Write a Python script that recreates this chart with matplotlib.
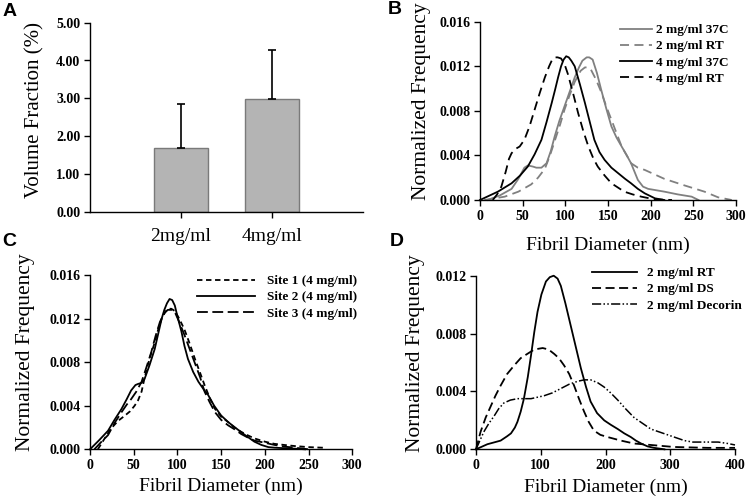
import numpy as np
import matplotlib
matplotlib.use("Agg")
import matplotlib.pyplot as plt

plt.rcParams['font.family'] = ['Liberation Serif', 'DejaVu Serif']

# Panel A: volume fraction bars
conc_labels = ["2mg/ml", "4mg/ml"]
vol_frac = [1.68, 2.98]
vol_err = [1.17, 1.30]

# Panel B: concentration / temperature
b_x_2_37 = [9, 23, 37, 45, 52, 56, 62, 66, 72, 78, 83, 87.5, 93, 99, 105, 111, 116, 120, 125, 128, 132, 137, 142, 148, 154, 160, 166, 172, 177, 185, 191, 197, 216, 232, 248, 256]
b_y_2_37 = [0, 0.0004, 0.0010, 0.0019, 0.0029, 0.0031, 0.0030, 0.0029, 0.0029, 0.0033, 0.0044, 0.0057, 0.0071, 0.0084, 0.0097, 0.0110, 0.0119, 0.0125, 0.0128, 0.0128, 0.0126, 0.0114, 0.0099, 0.0082, 0.0066, 0.0056, 0.0048, 0.0040, 0.0033, 0.0018, 0.0012, 0.0010, 0.00075, 0.0005, 0.0003, 0]
b_x_2_rt = [5, 29, 45, 60, 68, 76, 82, 88, 94, 99, 105, 111, 118, 123, 127, 130, 136, 142, 148, 154, 160, 166, 172, 177, 185, 193, 216, 240, 263, 279, 295]
b_y_2_rt = [0, 0.0003, 0.00075, 0.0014, 0.0020, 0.0028, 0.0040, 0.0054, 0.0068, 0.0081, 0.0094, 0.0106, 0.0116, 0.0119, 0.0119, 0.0117, 0.0108, 0.0097, 0.0084, 0.0072, 0.0060, 0.0048, 0.0040, 0.0033, 0.0029, 0.0027, 0.0019, 0.0013, 0.00075, 0.00024, 0]
b_x_4_37 = [0, 21, 37, 47, 56, 64, 72, 78, 84, 88, 91.5, 95, 98, 101, 104, 107, 111, 117, 123, 129, 134, 140, 146, 154, 162, 170, 177, 185, 193, 205, 216]
b_y_4_37 = [0, 0.00075, 0.0015, 0.0022, 0.0030, 0.0041, 0.0054, 0.0070, 0.0087, 0.0099, 0.0110, 0.0120, 0.0126, 0.0129, 0.0128, 0.0125, 0.0120, 0.0104, 0.0087, 0.0069, 0.0054, 0.0043, 0.0036, 0.0029, 0.0024, 0.0019, 0.0015, 0.0010, 0.0006, 0.00015, 0]
b_x_4_rt = [15, 20, 25, 30, 34, 37, 42, 46.5, 52, 58, 64, 70, 76, 81, 84, 87.5, 91, 95, 99, 103, 109, 115, 121, 127, 133, 138, 146, 154, 162, 169, 179, 189, 205, 225]
b_y_4_rt = [0, 0.0005, 0.0012, 0.0025, 0.0037, 0.0042, 0.0046, 0.0048, 0.0054, 0.0066, 0.0081, 0.0096, 0.0110, 0.0120, 0.0125, 0.0128, 0.0128, 0.0127, 0.0122, 0.0113, 0.0096, 0.0078, 0.0062, 0.0048, 0.0037, 0.0030, 0.0022, 0.0015, 0.0011, 0.00075, 0.0005, 0.0003, 0.00005, 0]

# Panel C: sites
c_x_s1 = [9, 16, 24, 32, 40, 46, 51, 55, 59, 62, 66, 70, 74, 78, 82, 86, 89, 93, 97, 102, 108, 114, 120, 126, 131, 137, 143, 150, 158, 165, 173, 180, 188, 200, 211, 222, 234, 250, 265, 270]
c_y_s1 = [0, 0.0009, 0.0019, 0.0026, 0.0031, 0.0035, 0.0040, 0.0045, 0.0053, 0.0064, 0.0077, 0.0088, 0.0098, 0.0110, 0.0120, 0.0126, 0.0129, 0.0129, 0.0127, 0.0120, 0.0110, 0.0097, 0.0083, 0.0070, 0.0059, 0.0047, 0.0037, 0.0030, 0.0025, 0.0020, 0.0016, 0.0013, 0.0010, 0.0007, 0.0005, 0.0004, 0.0003, 0.0002, 0.00015, 0.00015]
c_x_s2 = [0, 10, 20.6, 28, 36, 42, 47, 52, 55, 59, 62.6, 68, 74, 78, 82, 85, 88, 91, 94, 97, 100, 104.6, 108, 112, 118, 124, 130, 135, 142, 150, 158, 166, 174, 181, 188, 196, 204, 211, 222, 234, 246]
c_y_s2 = [0, 0.0008, 0.0017, 0.0027, 0.0037, 0.0046, 0.0054, 0.0059, 0.0060, 0.0061, 0.0065, 0.0077, 0.0092, 0.0106, 0.0120, 0.0128, 0.0134, 0.0138, 0.0137, 0.0132, 0.0122, 0.0108, 0.0095, 0.0083, 0.0071, 0.0062, 0.0055, 0.0050, 0.0040, 0.0031, 0.0025, 0.0020, 0.0015, 0.0011, 0.0007, 0.0004, 0.0002, 0.00015, 0.0001, 0.00006, 0]
c_x_s3 = [5, 12, 20.6, 28, 36, 42, 47, 53, 59, 64, 70, 75, 80, 85, 89, 93, 97, 102, 108, 114, 120, 126, 131, 137, 143, 150, 158, 166, 173, 180, 188, 200, 211, 222, 234, 250]
c_y_s3 = [0, 0.0006, 0.0013, 0.0024, 0.0034, 0.0041, 0.0046, 0.0053, 0.0062, 0.0074, 0.0089, 0.0104, 0.0117, 0.0125, 0.0128, 0.0128, 0.0126, 0.0117, 0.0105, 0.0092, 0.0079, 0.0066, 0.0053, 0.0043, 0.0034, 0.0027, 0.0022, 0.0018, 0.0014, 0.0011, 0.0008, 0.0006, 0.0004, 0.00025, 0.00015, 0]

# Panel D: additives
d_x_rt = [0, 17.5, 38, 48, 54, 60, 64, 69, 74, 80, 85, 90, 95, 101, 108, 114, 120, 126, 131, 138, 146, 154, 162, 170, 177, 187, 198, 208, 219, 229, 239, 247, 255, 265, 275, 291]
d_y_rt = [0, 0.00035, 0.0006, 0.0009, 0.0011, 0.0015, 0.0019, 0.0026, 0.0035, 0.0050, 0.0065, 0.0081, 0.0095, 0.0107, 0.0116, 0.0119, 0.0120, 0.0118, 0.0113, 0.0101, 0.0086, 0.0071, 0.0056, 0.0043, 0.0033, 0.0025, 0.0020, 0.0017, 0.0014, 0.0011, 0.00085, 0.0006, 0.0004, 0.0002, 0.0001, 0]
d_x_ds = [0, 7, 15, 23, 30, 38, 48, 59, 69, 79.4, 90, 103, 112, 120.6, 128, 136, 144, 151.5, 159, 167, 174, 182, 192, 203, 224, 244, 275, 306, 358, 400]
d_y_ds = [0, 0.0012, 0.0022, 0.0030, 0.0037, 0.0044, 0.0052, 0.0058, 0.0063, 0.0066, 0.0069, 0.0070, 0.0069, 0.0066, 0.0063, 0.0058, 0.0052, 0.0044, 0.0035, 0.0026, 0.0019, 0.0013, 0.0010, 0.00085, 0.0006, 0.0004, 0.00028, 0.00016, 0.0001, 0.0001]
d_x_dec = [0, 12, 20, 28, 35, 43, 53, 64, 75, 85, 95, 105, 118, 131, 144, 157, 167, 177, 188, 198, 208, 219, 231, 244, 257, 270, 283, 296, 309, 322, 335, 348, 361, 374, 389, 400]
d_y_dec = [0, 0.0012, 0.0018, 0.0023, 0.0028, 0.0032, 0.0034, 0.0035, 0.0035, 0.0035, 0.0036, 0.0037, 0.0039, 0.0042, 0.0045, 0.0047, 0.0048, 0.0048, 0.0046, 0.0043, 0.0039, 0.0034, 0.0028, 0.0022, 0.0018, 0.0014, 0.0012, 0.0010, 0.0008, 0.0006, 0.0005, 0.0005, 0.0005, 0.0005, 0.0004, 0.0003]

W, H = 747, 504
fig = plt.figure(figsize=(W / 100, H / 100), dpi=100)

def box(l, r, t, b):
    return [l / W, 1 - b / H, (r - l) / W, (b - t) / H]

axA = fig.add_axes(box(90, 363, 22.7, 211.7))
axB = fig.add_axes(box(480, 736, 21.7, 200))
axC = fig.add_axes(box(90, 352.3, 275, 449.3))
axD = fig.add_axes(box(476, 735, 275.7, 449.3))

tick_font = dict(family='Liberation Serif', weight='bold', size=10)

def style(ax):
    for s in ['top', 'right']:
        ax.spines[s].set_visible(False)
    for s in ['left', 'bottom']:
        ax.spines[s].set_linewidth(1.0)
    ax.tick_params(direction='out', length=4, width=1.0, pad=3)
    for lab in ax.get_xticklabels() + ax.get_yticklabels():
        lab.set_fontproperties(matplotlib.font_manager.FontProperties(**tick_font))

# A
pos = np.arange(1, len(vol_frac) + 1)
axA.bar(pos, vol_frac, width=0.6, color='#b4b4b4', edgecolor='#7a7a7a', linewidth=1.0, zorder=2)
axA.errorbar(pos, vol_frac, yerr=[np.zeros(len(vol_err)), vol_err], fmt='none',
             ecolor='black', elinewidth=1.2, capsize=3, capthick=1.2, zorder=3)
axA.set_xlim(0, 3)
axA.set_ylim(0, 5)
axA.set_xticks(pos)
axA.set_yticks(np.arange(0, 5.01, 1))
axA.set_yticklabels([f"{v:.2f}" for v in np.arange(0, 5.01, 1)])
style(axA)
axA.set_xticklabels(conc_labels, fontsize=14, fontweight='normal')
axA.tick_params(axis='x', pad=8)
axA.set_ylabel("Volume Fraction (%)", fontsize=15)
axA.yaxis.set_label_coords(-0.165, 0.54)

lw = 1.3
# B
axB.plot(b_x_2_37, b_y_2_37, color='#808080', lw=lw, label='2 mg/ml 37C', clip_on=False)
axB.plot(b_x_2_rt, b_y_2_rt, color='#808080', lw=lw, ls=(0, (5, 3)), label='2 mg/ml RT', clip_on=False)
axB.plot(b_x_4_37, b_y_4_37, color='black', lw=lw, label='4 mg/ml 37C', clip_on=False)
axB.plot(b_x_4_rt, b_y_4_rt, color='black', lw=lw, ls=(0, (5, 3)), label='4 mg/ml RT', clip_on=False)
axB.set_xlim(0, 300)
axB.set_ylim(0, 0.016)
axB.set_xticks(np.arange(0, 301, 50))
axB.set_yticks(np.arange(0, 0.0161, 0.004))
axB.set_yticklabels([f"{v:.3f}" for v in np.arange(0, 0.0161, 0.004)])
style(axB)

# C
axC.plot(c_x_s1, c_y_s1, color='black', lw=lw, ls=(0, (3, 2)), label='Site 1 (4 mg/ml)', clip_on=False)
axC.plot(c_x_s2, c_y_s2, color='black', lw=lw, label='Site 2 (4 mg/ml)', clip_on=False)
axC.plot(c_x_s3, c_y_s3, color='black', lw=lw, ls=(0, (6, 2.5)), label='Site 3 (4 mg/ml)', clip_on=False)
axC.set_xlim(0, 300)
axC.set_ylim(0, 0.016)
axC.set_xticks(np.arange(0, 301, 50))
axC.set_yticks(np.arange(0, 0.0161, 0.004))
axC.set_yticklabels([f"{v:.3f}" for v in np.arange(0, 0.0161, 0.004)])
style(axC)

# D
axD.plot(d_x_rt, d_y_rt, color='black', lw=lw, label='2 mg/ml RT', clip_on=False)
axD.plot(d_x_ds, d_y_ds, color='black', lw=lw, ls=(0, (5, 2.5)), label='2 mg/ml DS', clip_on=False)
axD.plot(d_x_dec, d_y_dec, color='black', lw=1.1, ls=(0, (6, 1.5, 1, 1.5, 1, 1.5)), label='2 mg/ml Decorin', clip_on=False)
axD.set_xlim(0, 400)
axD.set_ylim(0, 0.012)
axD.set_xticks(np.arange(0, 401, 100))
axD.set_yticks(np.arange(0, 0.0121, 0.004))
axD.set_yticklabels([f"{v:.3f}" for v in np.arange(0, 0.0121, 0.004)])
style(axD)

for ax, ylx, xly in [(axB, -0.19, -0.208), (axC, -0.21, -0.165), (axD, -0.197, -0.17)]:
    ax.set_ylabel("Normalized Frequency", fontsize=15.5)
    ax.yaxis.set_label_coords(ylx, 0.555)
    ax.set_xlabel("Fibril Diameter (nm)", fontsize=14)
    ax.xaxis.set_label_coords(0.5, xly)

leg_font = dict(family='Liberation Serif', weight='bold', size=9.5)
for ax, (x0, y0), hl, pad in [(axB, (620, 24), 2.4, 0.35), (axC, (197, 275), 4.4, 0.9), (axD, (592, 267), 3.4, 0.75)]:
    ax.legend(loc='upper left', bbox_to_anchor=(x0 / W, 1 - y0 / H), bbox_transform=fig.transFigure,
              frameon=False, borderpad=0, borderaxespad=0, handlelength=hl, handletextpad=pad,
              labelspacing=0.3, prop=leg_font)

letter = dict(family='Liberation Sans', weight='bold', size=14, ha='center', va='center')
fig.text(10 / W, 1 - 11 / H, 'A', **letter)
fig.text(395 / W, 1 - 10 / H, 'B', **letter)
fig.text(9 / W, 1 - 241 / H, 'C', **letter)
fig.text(397 / W, 1 - 241 / H, 'D', **letter)

fig.savefig('out.png', dpi=100)
